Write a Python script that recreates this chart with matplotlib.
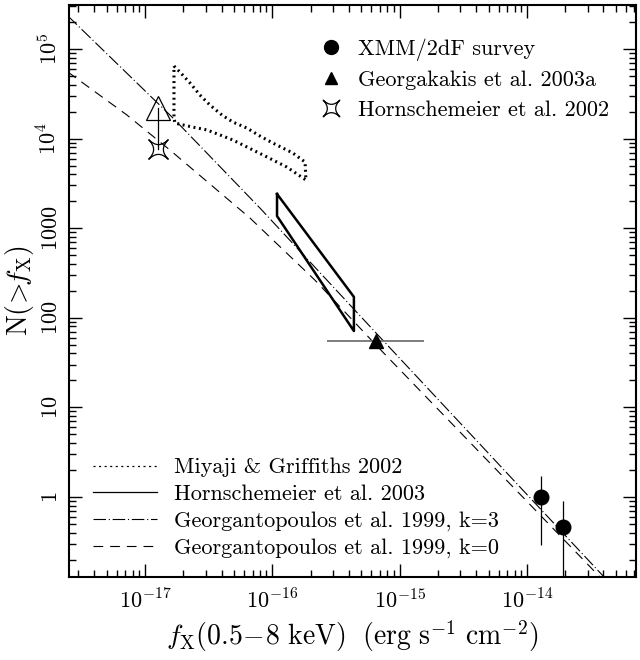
import math
import matplotlib
matplotlib.use('Agg')
import matplotlib.pyplot as plt
from matplotlib.path import Path
from matplotlib.lines import Line2D
from matplotlib.ticker import LogLocator, FuncFormatter, NullFormatter

plt.rcParams['font.family'] = ['cmr10', 'DejaVu Serif']
plt.rcParams['mathtext.fontset'] = 'cm'
plt.rcParams['axes.formatter.use_mathtext'] = True
plt.rcParams['lines.scale_dashes'] = False

# --- data ---
# XMM/2dF survey
xmm_fx = [1.29e-14, 1.92e-14]
xmm_n = [1.0, 0.46]
xmm_n_lo = [0.29, 0.01]
xmm_n_hi = [1.71, 0.90]

# Georgakakis et al. 2003a
geo_fx = [6.5e-16]
geo_n = [55.0]
geo_fx_lo = [2.7e-16]
geo_fx_hi = [1.57e-15]

# Hornschemeier et al. 2002 (star) and corrected value (open triangle)
horn02_fx = [1.26e-17]
horn02_n = [7730.0]
horn02_corr_n = [2.17e4]

# Hornschemeier et al. 2003 bow-tie
horn03_fx = [1.09e-16, 1.09e-16, 4.38e-16, 4.38e-16, 1.09e-16]
horn03_n = [2410.0, 1368.0, 71.2, 171.0, 2410.0]

# Miyaji & Griffiths 2002 contour (upper and lower branch)
miy_up_fx = [1.69e-17, 1.88e-17, 2.26e-17, 2.70e-17, 3.24e-17, 4.03e-17,
             4.91e-17, 6.33e-17, 8.0e-17, 1.01e-16, 1.45e-16, 1.81e-16]
miy_up_n = [6.46e4, 5.54e4, 4.18e4, 3.07e4, 2.37e4, 1.83e4,
            1.53e4, 1.31e4, 1.07e4, 8930, 6910, 5480]
miy_lo_fx = [1.69e-17, 1.72e-17, 2.34e-17, 3.07e-17, 3.88e-17, 4.91e-17,
             6.33e-17, 9.08e-17, 1.30e-16, 1.84e-16]
miy_lo_n = [1.70e4, 1.49e4, 1.35e4, 1.25e4, 1.10e4, 9640,
            8060, 6240, 4820, 3450]

# Georgantopoulos et al. 1999 models
k3_fx = [2.48e-18, 1.66e-17, 8.0e-17, 6.76e-16, 4.04e-14]
k3_n = [2.34e5, 1.70e4, 1680, 64.3, 0.128]
k0_fx = [2.48e-18, 7.23e-18, 1.57e-17, 6.68e-17, 2.16e-16, 6.53e-16, 3.75e-14]
k0_n = [5.54e4, 1.83e4, 7460, 1300, 264, 49.7, 0.128]

xlim = (2.53e-18, 7.2e-14)
ylim = (0.128, 3.1e5)

miy_fx = miy_up_fx + miy_lo_fx[::-1] + miy_up_fx[:1]
miy_n = miy_up_n + miy_lo_n[::-1] + miy_up_n[:1]

# four pointed open star
star = Path([(1, 1), (0, 0), (-1, 1), (0, 0), (-1, -1), (0, 0), (1, -1), (0, 0), (1, 1), (1, 1)],
            [Path.MOVETO, Path.CURVE3, Path.CURVE3, Path.CURVE3, Path.CURVE3,
             Path.CURVE3, Path.CURVE3, Path.CURVE3, Path.CURVE3, Path.CLOSEPOLY])

fig = plt.figure(figsize=(6.4, 6.6), dpi=100)
ax = fig.add_axes([0.1078, 0.1258, 0.8859, 0.8666])
ax.set_xscale('log')
ax.set_yscale('log')

dashdot = (0, (9, 2, 0.8, 2))
dashed = (0, (7, 5))
l_k3, = ax.plot(k3_fx, k3_n, color='k', lw=0.8, ls=dashdot)
l_k0, = ax.plot(k0_fx, k0_n, color='k', lw=0.8, ls=dashed)
ax.plot(miy_fx, miy_n, color='k', lw=2.2, ls=(0, (1.4, 2.6)), dash_capstyle='butt')
ax.plot(horn03_fx, horn03_n, color='k', lw=1.8)

yerr = [[n - lo for n, lo in zip(xmm_n, xmm_n_lo)], [hi - n for n, hi in zip(xmm_n, xmm_n_hi)]]
ax.errorbar(xmm_fx, xmm_n, yerr=yerr, fmt='o', ms=10.5, color='k', elinewidth=0.9, capsize=0)

xerr = [[f - lo for f, lo in zip(geo_fx, geo_fx_lo)], [hi - f for f, hi in zip(geo_fx, geo_fx_hi)]]
ax.errorbar(geo_fx, geo_n, xerr=xerr, fmt='^', ms=10, color='k', ecolor='0.45', elinewidth=1.3, capsize=0)

ax.plot(horn02_fx * 2, [horn02_corr_n[0], horn02_n[0]], color='k', lw=0.9)
ax.plot(horn02_fx, horn02_corr_n, ls='none', marker='^', ms=17, mfc='none', mec='k', mew=0.9)
ax.plot(horn02_fx, horn02_n, ls='none', marker=star, ms=14, mfc='none', mec='k', mew=0.9)

ax.set_xlim(*xlim)
ax.set_ylim(*ylim)

ax.xaxis.set_major_locator(LogLocator(base=10, numticks=20))
ax.xaxis.set_minor_locator(LogLocator(base=10, subs=range(2, 10), numticks=20))
ax.yaxis.set_major_locator(LogLocator(base=10, numticks=20))
ax.yaxis.set_minor_locator(LogLocator(base=10, subs=range(2, 10), numticks=20))
ax.xaxis.set_minor_formatter(NullFormatter())
ax.yaxis.set_minor_formatter(NullFormatter())


def xfmt(v, pos):
    if not xlim[0] <= v <= xlim[1]:
        return ''
    return r'$10^{%d}$' % round(math.log10(v))


def yfmt(v, pos):
    if not ylim[0] <= v <= ylim[1]:
        return ''
    if v >= 1e4:
        return r'$10^{%d}$' % round(math.log10(v))
    return r'$%d$' % round(v)


ax.xaxis.set_major_formatter(FuncFormatter(xfmt))
ax.yaxis.set_major_formatter(FuncFormatter(yfmt))
for s in ax.spines.values():
    s.set_linewidth(1.5)
ax.tick_params(which='both', direction='in', top=True, right=True, width=1.0)
ax.tick_params(which='major', length=9.5, labelsize=16)
ax.tick_params(which='minor', length=4.8)
ax.tick_params(axis='x', pad=8)
ax.tick_params(axis='y', pad=6, labelrotation=90)
for lab in ax.get_yticklabels():
    lab.set_va('center')

ax.set_xlabel(r'$f_{\rm X}(0.5\!-\!8\ {\rm keV})\ \ ({\rm erg\ s^{-1}\ cm^{-2}})$', fontsize=20, labelpad=4)
ax.set_ylabel(r'${\rm N}(\!>\!\!f_{\rm X})$', fontsize=20)
ax.yaxis.set_label_coords(-0.058, 0.5)

h_top = [Line2D([], [], ls='none', marker='o', ms=10, color='k'),
         Line2D([], [], ls='none', marker='^', ms=9, color='k'),
         Line2D([], [], ls='none', marker=star, ms=12, mfc='none', mec='k', mew=0.9)]
leg1 = ax.legend(h_top, ['XMM/2dF survey', 'Georgakakis et al. 2003a', 'Hornschemeier et al. 2002'],
                 loc='upper left', bbox_to_anchor=(0.443, 0.942), frameon=False, fontsize=16,
                 handlelength=1.0, handletextpad=0.72, labelspacing=0.45, borderpad=0, borderaxespad=0)
ax.add_artist(leg1)

h_bot = [Line2D([], [], color='k', lw=0.9, ls=(0, (1.5, 2.5))),
         Line2D([], [], color='k', lw=0.9),
         l_k3, l_k0]
ax.legend(h_bot, ['Miyaji & Griffiths 2002', 'Hornschemeier et al. 2003',
                  'Georgantopoulos et al. 1999, k=3', 'Georgantopoulos et al. 1999, k=0'],
          loc='lower left', bbox_to_anchor=(0.042, 0.033), frameon=False, fontsize=16,
          handlelength=2.9, handletextpad=0.77, labelspacing=0.32, borderpad=0, borderaxespad=0)

fig.savefig('out.png', dpi=100)
